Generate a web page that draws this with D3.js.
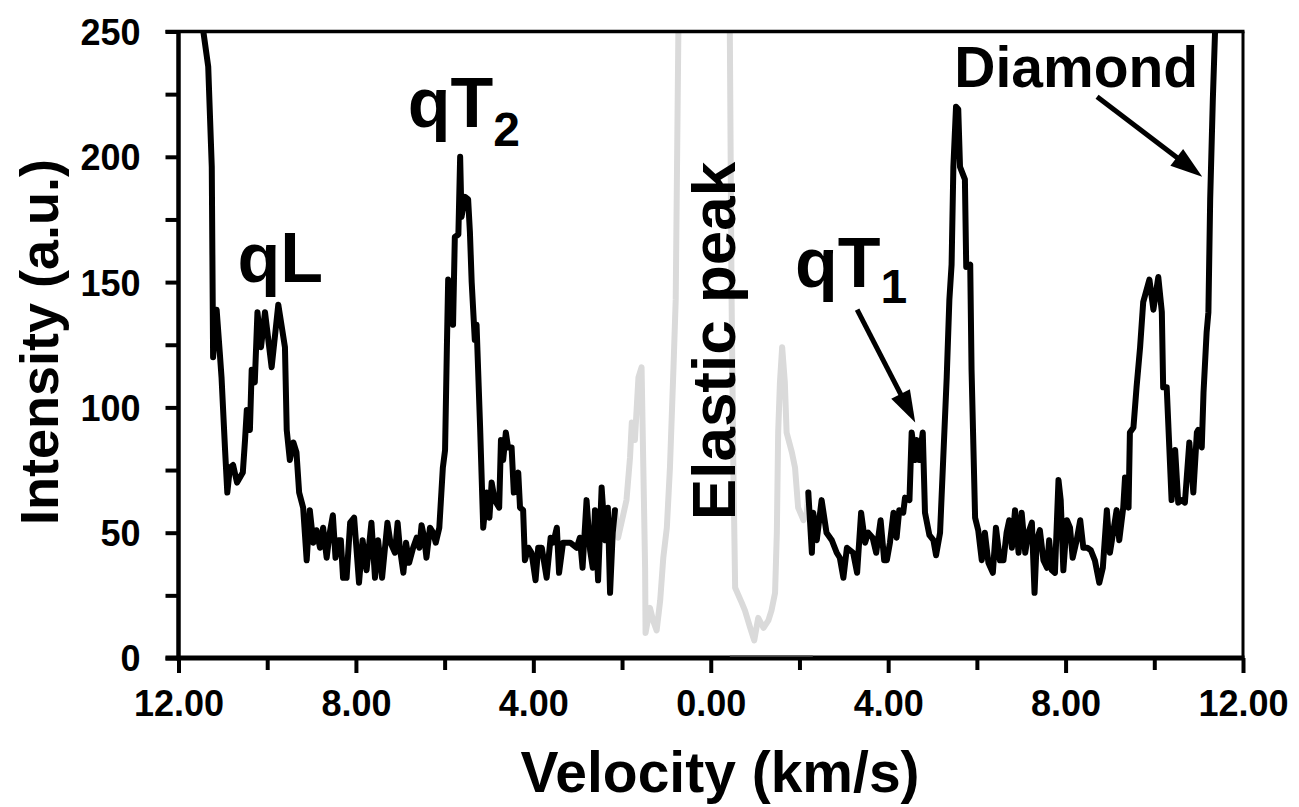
<!DOCTYPE html>
<html>
<head>
<meta charset="utf-8">
<script src="https://cdn.jsdelivr.net/npm/d3@7"></script>
<style>
  html, body { margin: 0; padding: 0; background: #fff; }
  svg { display: block; }
  text { font-family: "Liberation Sans", Arial, sans-serif; font-weight: bold; fill: #000; }
</style>
</head>
<body>
<svg id="chart" width="1299" height="807"></svg>
<script>
// ---- data (velocity km/s, intensity a.u.) ----
const leftSpectrum = [
  [-11.56,300],[-11.44,250],[-11.33,236],[-11.25,196],[-11.22,120],[-11.14,139],[-11.07,122],[-11.03,112],
  [-10.95,83],[-10.90,66],[-10.84,76],[-10.77,77],[-10.68,70],[-10.55,74],[-10.50,87],[-10.46,99],
  [-10.39,91],[-10.35,115],[-10.28,110],[-10.22,138],[-10.14,124],[-10.05,138],[-9.90,116],[-9.75,141],
  [-9.60,124],[-9.56,91],[-9.49,79],[-9.41,86],[-9.34,82],[-9.28,66],[-9.19,60],[-9.11,39],[-9.04,59],
  [-8.96,46],[-8.89,51],[-8.81,44],[-8.74,52],[-8.66,40],[-8.59,50],[-8.52,57],[-8.46,40],[-8.40,47],
  [-8.34,47],[-8.29,32],[-8.21,32],[-8.13,54],[-8.04,56],[-7.93,30],[-7.85,47],[-7.76,35],[-7.65,54],
  [-7.57,32],[-7.50,47],[-7.41,32],[-7.29,54],[-7.22,46],[-7.12,42],[-7.06,54],[-7.01,44],[-6.93,34],
  [-6.87,46],[-6.80,38],[-6.71,44],[-6.63,48],[-6.57,44],[-6.52,53],[-6.46,48],[-6.41,40],[-6.33,52],
  [-6.26,50],[-6.20,46],[-6.12,52],[-6.04,76],[-5.99,83],[-5.95,123],[-5.92,151],[-5.86,148],[-5.81,133],
  [-5.77,168],[-5.69,169],[-5.65,200],[-5.62,176],[-5.54,184],[-5.47,183],[-5.43,170],[-5.39,150],
  [-5.32,127],[-5.28,133],[-5.20,92],[-5.13,52],[-5.05,66],[-4.99,56],[-4.94,70],[-4.87,63],[-4.77,60],
  [-4.73,87],[-4.68,79],[-4.62,90],[-4.57,84],[-4.49,84],[-4.44,66],[-4.34,74],[-4.30,60],[-4.23,59],
  [-4.19,39],[-4.11,44],[-4.04,42],[-3.95,31],[-3.89,44],[-3.81,44],[-3.70,32],[-3.61,48],[-3.55,46],
  [-3.47,52],[-3.42,34],[-3.33,46],[-3.17,46],[-3.02,44],[-2.95,48],[-2.89,36],[-2.80,63],[-2.72,43],
  [-2.66,36],[-2.61,59],[-2.54,31],[-2.46,68],[-2.38,47],[-2.32,60],[-2.27,26],[-2.21,50],[-2.16,59]
];
const elasticSpectrum = [
  [-2.16,59],[-2.09,48],[-2.00,55],[-1.90,63],[-1.82,80],[-1.78,94],[-1.71,87],[-1.63,112],[-1.56,116],
  [-1.52,76],[-1.48,36],[-1.47,10],[-1.37,20],[-1.30,15],[-1.22,11],[-1.14,23],[-1.07,40],[-0.99,52],
  [-0.92,76],[-0.84,116],[-0.79,143],[-0.73,250],[-0.71,320],[0.42,320],[0.43,250],[0.47,143],[0.51,76],
  [0.55,28],[0.70,22],[0.77,19],[0.89,12],[0.98,7],[1.07,16],[1.19,12],[1.30,15],[1.37,19],[1.45,26],
  [1.49,50],[1.52,90],[1.56,110],[1.61,124],[1.67,110],[1.71,90],[1.83,82],[1.90,76],[1.97,60],
  [2.09,55],[2.16,57],[2.20,66]
];
const rightSpectrum = [
  [2.20,66],[2.28,42],[2.31,58],[2.39,47],[2.50,63],[2.61,50],[2.73,47],[2.84,42],[2.91,40],[2.99,32],
  [3.07,44],[3.14,43],[3.21,42],[3.30,34],[3.39,58],[3.48,46],[3.55,50],[3.65,48],[3.73,42],[3.83,55],
  [3.91,39],[3.97,39],[4.04,46],[4.12,58],[4.19,48],[4.25,59],[4.34,58],[4.38,64],[4.48,63],[4.53,90],
  [4.61,79],[4.64,87],[4.70,79],[4.78,90],[4.83,58],[4.93,49],[5.02,47],[5.08,41],[5.17,50],[5.24,79],
  [5.32,112],[5.38,143],[5.43,157],[5.47,196],[5.53,220],[5.58,219],[5.62,196],[5.73,191],[5.76,156],
  [5.85,157],[5.88,115],[5.96,56],[6.03,51],[6.11,39],[6.18,50],[6.26,38],[6.36,34],[6.43,52],[6.52,39],
  [6.60,39],[6.67,50],[6.73,55],[6.79,44],[6.86,59],[6.94,42],[7.01,58],[7.09,42],[7.16,50],[7.24,54],
  [7.30,26],[7.35,47],[7.42,51],[7.50,39],[7.58,36],[7.63,47],[7.69,35],[7.76,34],[7.84,71],[7.89,63],
  [7.95,35],[8.03,55],[8.10,52],[8.16,40],[8.25,47],[8.33,55],[8.40,44],[8.49,44],[8.57,43],[8.66,39],
  [8.76,30],[8.84,36],[8.93,59],[9.00,42],[9.08,51],[9.15,59],[9.21,47],[9.30,60],[9.34,72],[9.42,60],
  [9.45,90],[9.53,92],[9.60,108],[9.68,124],[9.75,142],[9.89,151],[9.98,139],[10.09,152],[10.17,138],
  [10.20,108],[10.28,108],[10.39,63],[10.47,83],[10.54,62],[10.62,63],[10.69,62],[10.79,86],[10.88,66],
  [10.96,90],[10.99,91],[11.07,84],[11.11,106],[11.18,130],[11.22,138],[11.26,183],[11.32,223],
  [11.37,250],[11.42,320]
];
const xTickValues = [-12,-10,-8,-6,-4,-2,0,2,4,6,8,10,12];
const xLabelledTicks = [-12,-8,-4,0,4,8,12];
const yTickValues = [0,25,50,75,100,125,150,175,200,225,250];
const yLabelledTicks = [0,50,100,150,200,250];
const xTitle = "Velocity (km/s)";
const yTitle = "Intensity (a.u.)";
// annotations: [text, subscript, velocity, intensity]
const peakLabels = [
  ["qL", "", -10.67, 150],
  ["qT", "2", -6.83, 212],
  ["qT", "1", 1.90, 148],
  ["Diamond", "", 5.49, 228]
];
// arrows: [fromV, fromI, toV, toI]
const arrows = [
  [3.30, 139, 4.61, 94],
  [8.71, 224, 11.08, 192]
];

// ---- layout ----
const W = 1299, H = 807;
const margin = {left: 178.5, right: 56, top: 31.5, bottom: 149};
const svg = d3.select("#chart");
const x = d3.scaleLinear().domain([-12, 12]).range([margin.left, W - margin.right]);
const y = d3.scaleLinear().domain([0, 250]).range([H - margin.bottom, margin.top]);

svg.append("clipPath").attr("id", "plotclip")
  .append("rect")
  .attr("x", x(-12)).attr("y", y(250))
  .attr("width", x(12) - x(-12)).attr("height", y(0) - y(250));

const line = d3.line().x(d => x(d[0])).y(d => y(d[1]));
const plot = svg.append("g").attr("clip-path", "url(#plotclip)");

plot.append("path").datum(elasticSpectrum)
  .attr("d", line).attr("fill", "none")
  .attr("stroke", "#dadada").attr("stroke-width", 6)
  .attr("stroke-linejoin", "round").attr("stroke-linecap", "round");
[leftSpectrum, rightSpectrum].forEach(s => {
  plot.append("path").datum(s)
    .attr("d", line).attr("fill", "none")
    .attr("stroke", "#000").attr("stroke-width", 6)
    .attr("stroke-linejoin", "round").attr("stroke-linecap", "round");
});

// ---- axes ----
const yAxis = d3.axisLeft(y).tickValues(yTickValues).tickSize(13)
  .tickFormat(d => yLabelledTicks.includes(d) ? String(d) : "");
const gy = svg.append("g").attr("transform", `translate(${x(-12)},0)`).call(yAxis);
gy.select(".domain").remove();
gy.selectAll(".tick line").attr("stroke", "#000").attr("stroke-width", 4);
gy.selectAll(".tick text").attr("x", -38).attr("dy", "0.36em")
  .style("font-size", "36px").style("font-family", "'Liberation Sans', Arial, sans-serif")
  .style("font-weight", "bold");

const xAxis = d3.axisBottom(x).tickValues(xTickValues).tickSize(12)
  .tickFormat(d => xLabelledTicks.includes(d) ? Math.abs(d).toFixed(2) : "");
const gx = svg.append("g").attr("transform", `translate(0,${y(0)})`).call(xAxis);
gx.select(".domain").remove();
gx.selectAll(".tick line").attr("stroke", "#000").attr("stroke-width", 4)
  .attr("y2", d => xLabelledTicks.includes(d) ? 15 : 12);
gx.selectAll(".tick text").attr("y", 58).attr("dy", 0)
  .style("font-size", "36px").style("font-family", "'Liberation Sans', Arial, sans-serif")
  .style("font-weight", "bold");

// frame
svg.append("line").attr("x1", x(-12) - 13).attr("x2", x(12) + 1.5).attr("y1", y(250)).attr("y2", y(250))
  .attr("stroke", "#000").attr("stroke-width", 3.5);
svg.append("line").attr("x1", x(12)).attr("x2", x(12)).attr("y1", y(250)).attr("y2", y(0))
  .attr("stroke", "#000").attr("stroke-width", 3);
svg.append("line").attr("x1", x(-12)).attr("x2", x(-12)).attr("y1", y(250) - 1.5).attr("y2", y(0) + 2.5)
  .attr("stroke", "#000").attr("stroke-width", 4.5);
svg.append("line").attr("x1", x(-12) - 13).attr("x2", x(12) + 1.5).attr("y1", y(0)).attr("y2", y(0))
  .attr("stroke", "#000").attr("stroke-width", 5);
// faint grey strip over the axis beneath the elastic window
svg.append("line").attr("x1", x(0.43)).attr("x2", x(2.3)).attr("y1", y(0) - 2).attr("y2", y(0) - 2)
  .attr("stroke", "#555").attr("stroke-width", 1.5);

// axis titles
svg.append("text").attr("x", 720).attr("y", 792).attr("text-anchor", "middle")
  .style("font-size", "57px").text(xTitle);
svg.append("text").attr("transform", "translate(58,342) rotate(-90)").attr("text-anchor", "middle")
  .style("font-size", "54px").text(yTitle);

// ---- annotations ----
const subShift = {"2": 19, "1": 16};
peakLabels.forEach(([t, sub, v, i]) => {
  const txt = svg.append("text").attr("x", x(v)).attr("y", y(i))
    .style("font-size", t === "Diamond" ? "57px" : "70px");
  txt.append("tspan").text(t);
  if (sub) txt.append("tspan").attr("dy", subShift[sub]).style("font-size", "48px").text(sub);
});
svg.append("text").attr("transform", `translate(${x(0.55)},${y(55)}) rotate(-90)`)
  .style("font-size", "62px").text("Elastic peak");

arrows.forEach(([v1, i1, v2, i2]) => {
  const x1 = x(v1), y1 = y(i1), x2 = x(v2), y2 = y(i2);
  const dx = x2 - x1, dy = y2 - y1, L = Math.hypot(dx, dy);
  const ux = dx / L, uy = dy / L, px = -uy, py = ux;
  const hl = 32, hw = 10.5;
  svg.append("line").attr("x1", x1).attr("y1", y1)
    .attr("x2", x2 - ux * hl * 0.8).attr("y2", y2 - uy * hl * 0.8)
    .attr("stroke", "#000").attr("stroke-width", 5);
  const bx = x2 - ux * hl, by = y2 - uy * hl;
  svg.append("polygon")
    .attr("points", [[x2, y2], [bx + px * hw, by + py * hw], [bx - px * hw, by - py * hw]].map(p => p.join(",")).join(" "))
    .attr("fill", "#000");
});
</script>
</body>
</html>
